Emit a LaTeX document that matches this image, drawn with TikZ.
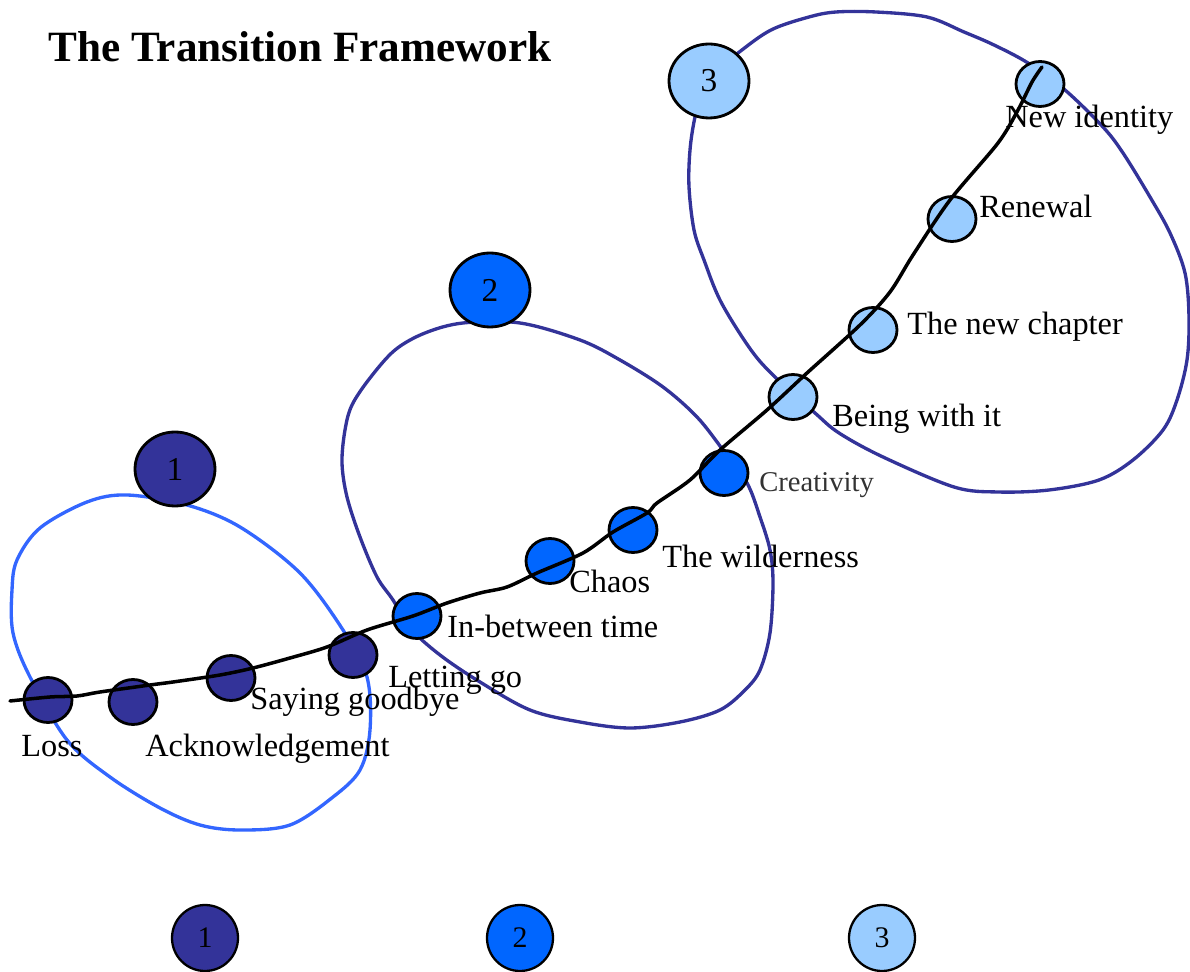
\documentclass[tikz,border=0pt]{standalone}
\usepackage{fontspec}
\setmainfont{Liberation Serif}
\usetikzlibrary{shapes.geometric}
\definecolor{navy}{HTML}{333399}
\definecolor{midblue}{HTML}{0066FF}
\definecolor{pale}{HTML}{99CCFF}
\definecolor{loopblue}{HTML}{3366FF}
\definecolor{greytext}{HTML}{333333}
\tikzset{
  stage/.style={ellipse, draw=black, line width=1.6pt, inner sep=0pt, minimum width=0.96cm, minimum height=0.9cm},
  bignum/.style={ellipse, draw=black, line width=1.6pt, inner sep=0pt, minimum width=1.6cm, minimum height=1.48cm, font=\fontsize{19}{19}\selectfont},
  legendnum/.style={ellipse, draw=black, line width=1.3pt, inner sep=0pt, minimum width=1.32cm, minimum height=1.32cm, font=\fontsize{17}{17}\selectfont},
  lbl/.style={font=\fontsize{18.4}{20}\selectfont, inner sep=0pt, anchor=base west},
  loopline/.style={line width=1.9pt, line join=round},
  trackline/.style={line width=2pt, black, line join=round, line cap=round},
}
\begin{document}
\begin{tikzpicture}[x=0.02cm, y=-0.02cm]
\useasboundingbox (0,0) rectangle (1190,972);
% title
\node[font=\bfseries\fontsize{24.6}{26}\selectfont, inner sep=0pt, anchor=base west] (title) at (48,62) {The Transition Framework};
% loops
\draw[loopline, draw=loopblue] plot[smooth cycle, tension=0.55] coordinates {
 (127,495) (187,505) (240,527) (300,573) (343,630) (367,677) (370,730) (360,770) (333,797) (290,825) (240,830) (200,825) (160,808) (110,777) (67,740) (30,677) (13,633) (12,590) (17,560) (40,528) (87,502)};
\draw[loopline, draw=navy] plot[smooth cycle, tension=0.55] coordinates {
 (463,323) (520,323) (580,340) (620,360) (663,387) (697,417) (723,450) (747,483) (760,517) (770,550) (773,583) (770,633) (760,670) (745,690) (720,710) (680,722) (630,728) (580,722) (530,710) (480,682) (440,655) (410,628) (393,600) (377,577) (360,537) (347,497) (342,463) (345,430) (352,405) (370,378) (395,350) (425,333)};
\draw[loopline, draw=navy] plot[smooth cycle, tension=0.55] coordinates {
 (738,53) (771,30) (809,17) (836,12) (876,12) (927,17) (964,32) (994,45) (1028,63) (1065,90) (1103,127) (1123,153) (1150,197) (1170,233) (1185,273) (1189,317) (1187,360) (1177,400) (1163,430) (1133,460) (1099,480) (1049,490) (998,492) (954,487) (883,457) (839,433) (815,413) (775,377) (751,350) (721,302) (704,260) (694,230) (689,187) (690,150) (695,117) (705,80)};
% big numbers
\node[bignum, fill=navy] (n1) at (175,469) {1};
\node[bignum, fill=midblue] (n2) at (490,290) {2};
\node[bignum, fill=pale] (n3) at (709,81) {3};
% stage nodes
\node[stage, fill=navy] (loss) at (48,700) {};
\node[stage, fill=navy] (ack) at (133,702) {};
\node[stage, fill=navy] (bye) at (231,678) {};
\node[stage, fill=navy] (letgo) at (353,655) {};
\node[stage, fill=midblue] (between) at (417,616) {};
\node[stage, fill=midblue] (chaos) at (550,561) {};
\node[stage, fill=midblue] (wild) at (633,530) {};
\node[stage, fill=midblue] (creat) at (724,473) {};
\node[stage, fill=pale] (being) at (793,397) {};
\node[stage, fill=pale] (chapter) at (873,330) {};
\node[stage, fill=pale] (renew) at (952,219) {};
\node[stage, fill=pale] (newid) at (1040,84) {};
% track
\coordinate (tstart) at (10,701);
\draw[trackline] plot[smooth, tension=0.5] coordinates {
 (tstart) (50,697) (77,696) (100,692) (150,685) (173,682) (220,675) (253,668) (290,658) (327,647) (367,630) (413,616) (447,603) (480,593) (507,587) (537,573) (583,553) (613,532) (647,513) (657,503) (690,480) (720,450) (767,410) (807,373) (860,325) (890,292) (913,255) (950,200) (998,143) (1018,110) (1032,82) (1042,67)};
% labels
\node[lbl] (lloss) at (21,756) {Loss};
\node[lbl] (lack) at (145,756) {Acknowledgement};
\node[lbl] (lbye) at (250,709) {Saying goodbye};
\node[lbl] (lletgo) at (388,687) {Letting go};
\node[lbl] (lbetween) at (447,638) {In-between time};
\node[lbl] (lchaos) at (569,593) {Chaos};
\node[lbl] (lwild) at (662,568) {The wilderness};
\node[lbl, font=\fontsize{16.3}{18}\selectfont, text=greytext] (lcreat) at (759,492) {Creativity};
\node[lbl] (lbeing) at (832,427) {Being with it};
\node[lbl] (lchapter) at (907,335) {The new chapter};
\node[lbl] (lrenew) at (979,218) {Renewal};
\node[lbl] (lnewid) at (1005,128) {New identity};
% legend
\node[legendnum, fill=navy] (k1) at (205,938) {1};
\node[legendnum, fill=midblue] (k2) at (520,938) {2};
\node[legendnum, fill=pale] (k3) at (882,938) {3};
\end{tikzpicture}
\end{document}
